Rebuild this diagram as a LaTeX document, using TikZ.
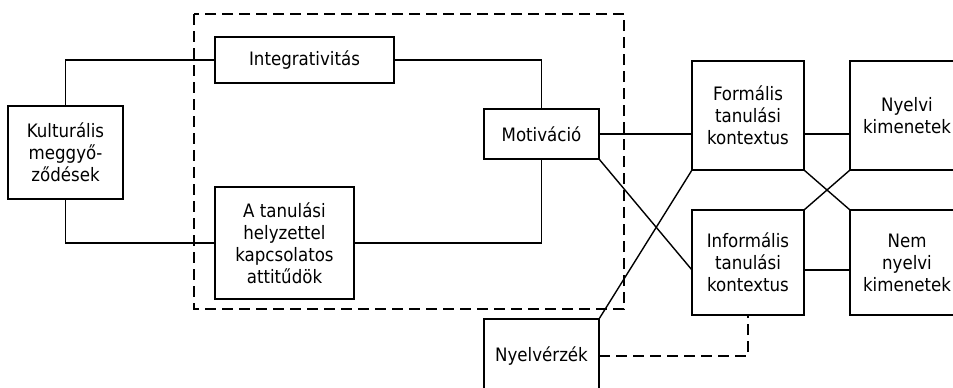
\documentclass[tikz,border=0pt]{standalone}
\usepackage{fontspec}
\setmainfont{DejaVu Sans Condensed}

\begin{document}
\begin{tikzpicture}[x=1pt,y=-1pt,line width=1.4pt,
	box/.style={draw,align=center,inner sep=0,outer sep=0,font=\fontsize{18.5}{22}\selectfont},
	link/.style={line width=1.4pt},
	dashlink/.style={line width=1.4pt,dash pattern=on 11pt off 6pt}]
	\useasboundingbox (0,0) rectangle (953,388);
	\draw[dashlink] (194,14) rectangle (624,309);
	\node[box,minimum width=115pt,minimum height=93pt] (kult) at (65.5,152.5) {Kulturális\\meggyő-\\ződések};
	\node[box,minimum width=179pt,minimum height=46pt] (integ) at (304.5,60) {Integrativitás};
	\node[box,minimum width=139pt,minimum height=112pt] (attit) at (284.5,243) {A tanulási\\helyzettel\\kapcsolatos\\attitűdök};
	\node[box,minimum width=115pt,minimum height=50pt] (motiv) at (541.5,134) {Motiváció};
	\node[box,minimum width=115pt,minimum height=74pt] (nyerz) at (541.5,356) {Nyelvérzék};
	\node[box,minimum width=112pt,minimum height=109pt] (formal) at (748,115.5) {Formális\\tanulási\\kontextus};
	\node[box,minimum width=112pt,minimum height=105pt] (inform) at (748,262.5) {Informális\\tanulási\\kontextus};
	\node[box,minimum width=114pt,minimum height=109pt] (nyelvi) at (907,115.5) {Nyelvi\\kimenetek};
	\node[box,minimum width=114pt,minimum height=105pt] (nemny) at (907,262.5) {Nem\\nyelvi\\kimenetek};
	\draw[link] (kult.north) |- (integ.west);
	\draw[link] (kult.south) |- (attit.west);
	\draw[link] (integ.east) -| (motiv.north);
	\draw[link] (attit.east) -| (motiv.south);
	\draw[link] (motiv.east) -- (motiv.east -| formal.west);
	\draw[link] (formal.east |- motiv.east) -- (nyelvi.west |- motiv.east);
	\draw[link] (motiv.south east) -- ([yshift=-7.5pt]inform.west);
	\draw[link] ([yshift=-7.5pt]inform.east) -- ([yshift=-7.5pt]nemny.west);
	\draw[link] (nyerz.north east) -- (formal.south west);
	\draw[link] (formal.south east) -- (nemny.north west);
	\draw[link] (inform.north east) -- (nyelvi.south west);
	\draw[dashlink] (nyerz.east) -| (inform.south);
\end{tikzpicture}
\end{document}
